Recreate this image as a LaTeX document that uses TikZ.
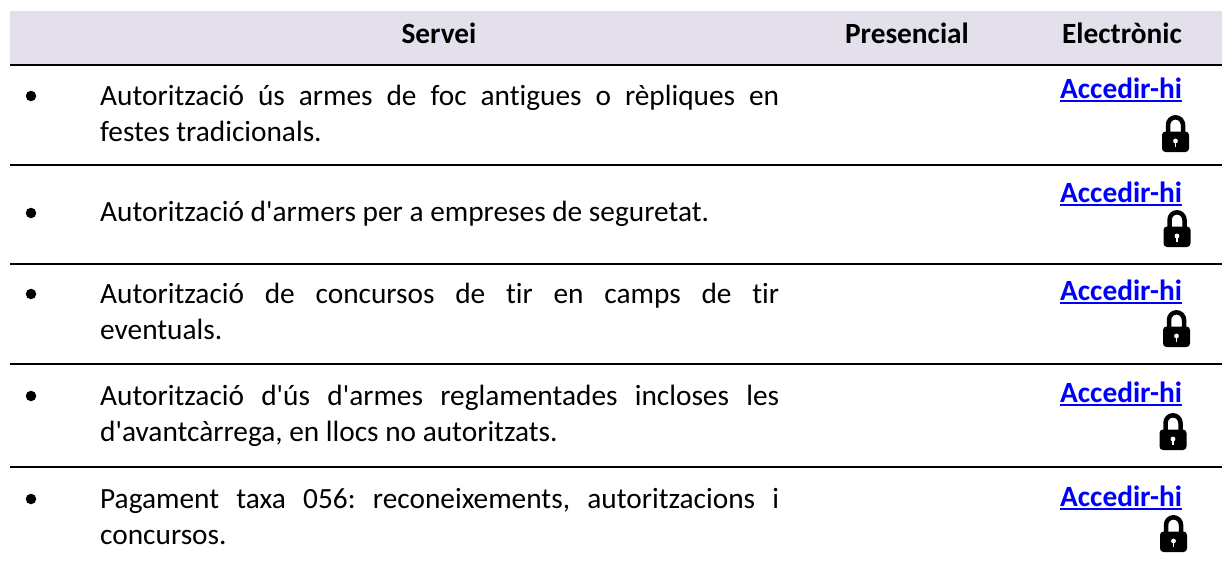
\documentclass[tikz,border=0pt]{standalone}
\usepackage{fontspec}
\setmainfont[Ligatures=NoCommon]{Carlito}
\definecolor{band}{HTML}{E3DFEB}
\definecolor{linkblue}{HTML}{0000FF}
\tikzset{
  rulebar/.style={line width=2pt,black},
  headtext/.style={anchor=base,inner sep=0pt,font=\fontsize{29.33}{36}\selectfont\bfseries},
  bodytext/.style={anchor=north west,inner sep=0pt,text width=679pt,align=justify,font=\fontsize{29.33}{36.5}\selectfont\frenchspacing},
  bulletdot/.style={circle,fill=black,inner sep=0pt,minimum size=10.5pt},
  linktext/.style={anchor=base west,inner sep=0pt,text=linkblue,font=\fontsize{29.33}{36}\selectfont\bfseries},
  linkrule/.style={line width=2pt,linkblue},
  lock/.pic={
    \draw[black,line width=4.5pt] (6,18) -- (6,10) arc[start angle=180,end angle=0,x radius=7.5,y radius=-7.7] -- (21,18);
    \fill[black,rounded corners=3.5pt] (0,16.5) rectangle (27,37);
    \fill[white] (13.5,26) circle[radius=2.4];
    \fill[white] (12.6,26) rectangle (14.4,32);
  }
}
\newcommand{\jline}[1]{\hbox to 679pt{\spaceskip=0pt\xspaceskip=0pt\strut #1}}
\newcommand{\apos}{\textquotesingle}
\begin{document}
\begin{tikzpicture}[x=1pt,y=-1pt]
\useasboundingbox (0,0) rectangle (1227,562);
\fill[band] (10,11) rectangle (1222,64);
\coordinate (r0a) at (10,65); \coordinate (r0b) at (1222,65);
\coordinate (r1a) at (10,165); \coordinate (r1b) at (1222,165);
\coordinate (r2a) at (10,264); \coordinate (r2b) at (1222,264);
\coordinate (r3a) at (10,364); \coordinate (r3b) at (1222,364);
\coordinate (r4a) at (10,467); \coordinate (r4b) at (1222,467);
\foreach \r in {0,...,4} \draw[rulebar] (r\r a) -- (r\r b);

\node[headtext] (hservei) at (439,43) {Servei};
\node[headtext] (hpres) at (907,43) {Presencial};
\node[headtext] (helec) at (1122,43) {Electrònic};

\node[bulletdot] (b1) at (31,96) {};
\node[bulletdot] (b2) at (31,213) {};
\node[bulletdot] (b3) at (31,294) {};
\node[bulletdot] (b4) at (31,396) {};
\node[bulletdot] (b5) at (31,499) {};

\node[bodytext] (t1) at (100,79.5) {\jline{Autorització ús armes de foc antigues o rèpliques en}\\\strut festes tradicionals.};
\node[bodytext] (t2) at (100,195.5) {\strut Autorització d\apos armers per a empreses de seguretat.};
\node[bodytext] (t3) at (100,277.5) {\jline{Autorització de concursos de tir en camps de tir}\\\strut eventuals.};
\node[bodytext] (t4) at (100,379.5) {\jline{Autorització d\apos ús d\apos armes reglamentades incloses les}\\\strut d\apos avantcàrrega, en llocs no autoritzats.};
\node[bodytext] (t5) at (100,482.5) {\jline{Pagament taxa 056: reconeixements, autoritzacions i}\\\strut concursos.};

\foreach \n/\y in {1/98,2/202,3/300,4/402,5/506}{
  \node[linktext] (l\n) at (1060,\y) {Accedir-hi};
  \draw[linkrule] ([yshift=-3pt]l\n.base west) -- ([yshift=-3pt]l\n.base east);
}
\pic at (1162,115) {lock};
\pic at (1163.5,210) {lock};
\pic at (1163,310) {lock};
\pic at (1159.5,413) {lock};
\pic at (1160,515) {lock};
\end{tikzpicture}
\end{document}
